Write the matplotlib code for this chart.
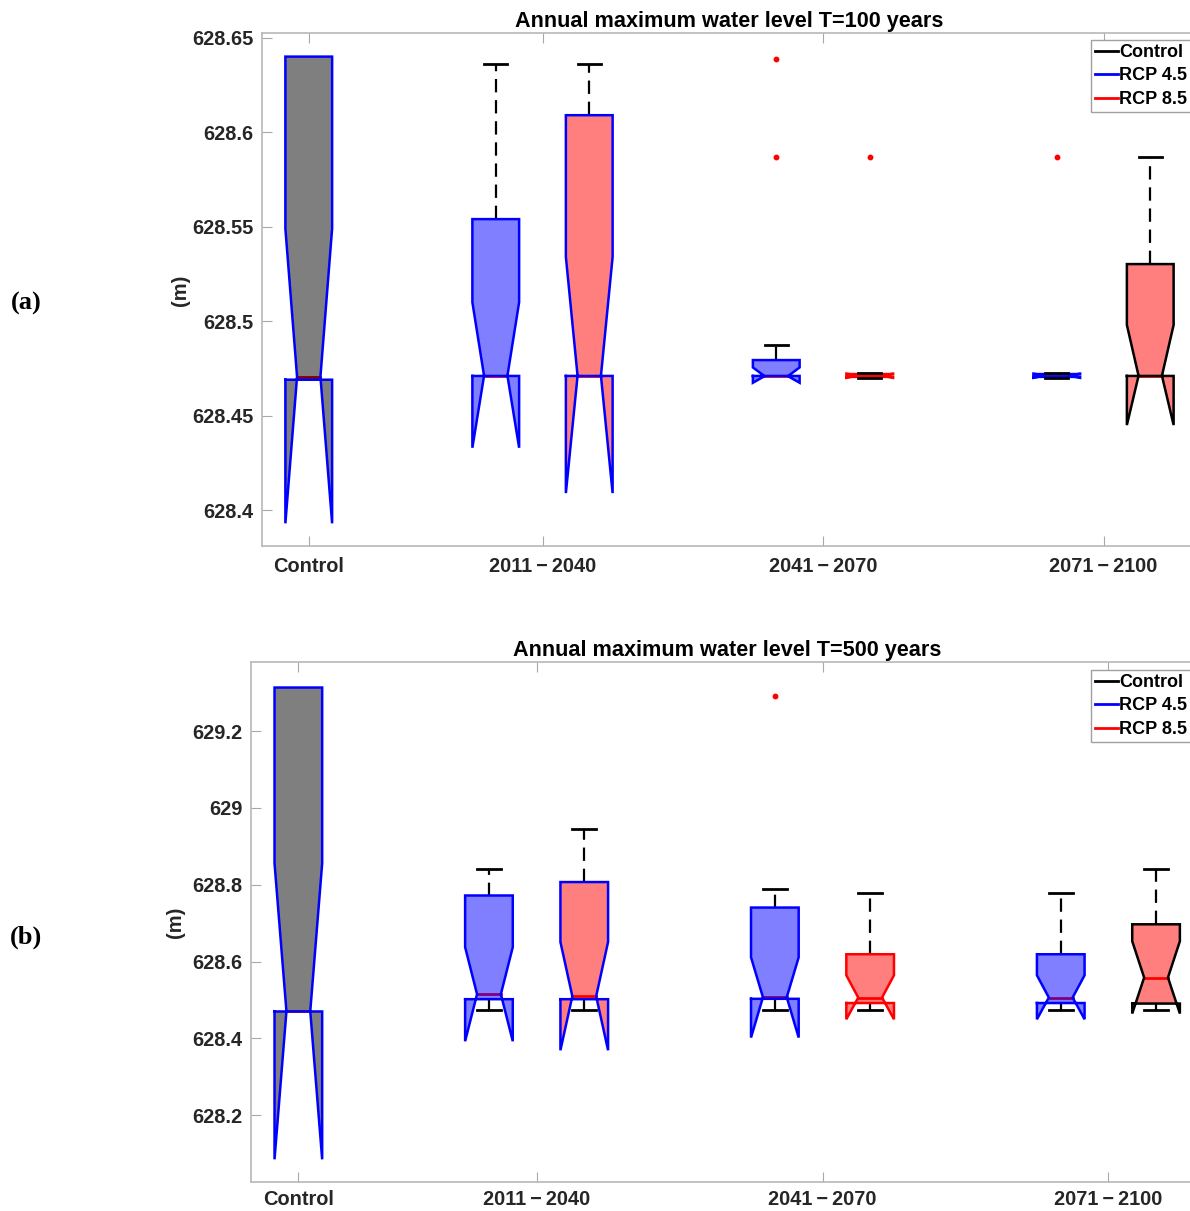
import matplotlib
matplotlib.use('Agg')
import matplotlib.pyplot as plt
from matplotlib.ticker import FuncFormatter

plt.rcParams['font.family'] = ['Liberation Sans', 'DejaVu Sans']
plt.rcParams['font.weight'] = 'bold'

groups = ['Control', '2011\u2009\u2212\u20092040', '2041\u2009\u2212\u20092070', '2071\u2009\u2212\u20092100']
series = ['Control', 'RCP 4.5', 'RCP 8.5']

# box order: Control, then RCP 4.5 / RCP 8.5 for every period
box_series = [0, 1, 2, 1, 2, 1, 2]

####################
# T = 100 years
q1_100    = [628.469, 628.471, 628.471, 628.4710, 628.4705, 628.4705, 628.471]
med_100   = [628.4706, 628.4711, 628.4711, 628.4709, 628.4712, 628.4712, 628.4711]
q3_100    = [628.640, 628.554, 628.609, 628.4794, 628.4720, 628.4720, 628.5302]
nlo_100   = [628.393, 628.433, 628.409, 628.4674, 628.4700, 628.4700, 628.445]
nhi_100   = [628.549, 628.510, 628.534, 628.4755, 628.4722, 628.4722, 628.498]
wlo_100   = [628.469, 628.471, 628.471, 628.4710, 628.4698, 628.4698, 628.471]
whi_100   = [628.640, 628.636, 628.636, 628.4873, 628.4726, 628.4726, 628.5868]
out_100   = [[], [], [], [628.639, 628.587], [628.587], [628.587], []]

####################
# T = 500 years
q1_500    = [628.470, 628.502, 628.502, 628.503, 628.492, 628.492, 628.4906]
med_500   = [628.4706, 628.515, 628.5097, 628.507, 628.5063, 628.5063, 628.5584]
q3_500    = [629.3135, 628.772, 628.807, 628.7406, 628.619, 628.619, 628.697]
nlo_500   = [628.085, 628.3925, 628.369, 628.402, 628.4497, 628.4497, 628.4646]
nhi_500   = [628.856, 628.6375, 628.651, 628.611, 628.5643, 628.5643, 628.653]
wlo_500   = [628.470, 628.473, 628.473, 628.473, 628.473, 628.473, 628.473]
whi_500   = [629.3135, 628.841, 628.9445, 628.788, 628.778, 628.778, 628.841]
out_500   = [[], [], [], [629.292], [], [], []]

box_pos = [1, 2, 2.5, 3.5, 4, 5, 5.5]
group_pos = [1, 2.25, 3.75, 5.25]
box_w = 0.25

fill_colors = ['k', 'b', 'r']
edge_colors = ['b', 'b', 'b', 'b', 'r', 'b', 'k']

fig = plt.figure(figsize=(11.9, 12.11), dpi=100)


def notch_box(ax, x, q1, med, q3, nlo, nhi, wlo, whi, outl, fc, ec):
    h = box_w / 2
    xs = [x - h, x - h, x - h / 2, x - h, x - h, x + h, x + h, x + h / 2, x + h, x + h, x - h]
    ys = [q1, nlo, med, nhi, q3, q3, nhi, med, nlo, q1, q1]
    # median sits under the transparent fill
    ax.plot([x - h / 2, x + h / 2], [med, med], color='r', lw=2, zorder=2)
    ax.fill(xs, ys, color=fc, alpha=0.5, lw=0, zorder=3)
    ax.plot(xs, ys, color=ec, lw=1.8, zorder=4, solid_joinstyle='miter')
    if whi > q3:
        ax.plot([x, x], [q3, whi], color='k', lw=1.6, ls=(0, (6, 3.5)), zorder=1)
        ax.plot([x - h / 2, x + h / 2], [whi, whi], color='k', lw=2, zorder=5)
    if wlo < q1:
        ax.plot([x, x], [wlo, q1], color='k', lw=1.6, ls=(0, (6, 3.5)), zorder=1)
        ax.plot([x - h / 2, x + h / 2], [wlo, wlo], color='k', lw=2, zorder=5)
    for v in outl:
        ax.plot(x, v, 'o', color='r', ms=3.2, mec='r', zorder=6)


def draw_panel(ax, q1, med, q3, nlo, nhi, wlo, whi, outl, title, yticks, ylim, leg_top, xpad):
    for i in range(len(box_pos)):
        notch_box(ax, box_pos[i], q1[i], med[i], q3[i], nlo[i], nhi[i], wlo[i], whi[i],
                  outl[i], fill_colors[box_series[i]], edge_colors[i])
    ax.set_xlim(0.75, 5.75)
    ax.set_ylim(*ylim)
    ax.set_xticks(group_pos)
    ax.set_xticklabels(groups)
    ax.set_yticks(yticks)
    ax.yaxis.set_major_formatter(FuncFormatter(lambda v, p: '%g' % round(v, 2)))
    ax.tick_params(direction='in', length=7, width=0.8, color='#a8a8a8',
                   labelcolor='#262626', labelsize=14.4, pad=6)
    ax.tick_params(axis='x', top=True, pad=xpad)
    for s in ax.spines.values():
        s.set_color('#b8b8b8')
        s.set_linewidth(1.2)
    ax.set_title(title, fontsize=15.6, fontweight='bold', pad=4)

    handles = [plt.Line2D([], [], color=c, lw=2) for c in ['k', 'b', 'r']]
    leg = ax.legend(handles, series, loc='upper left', bbox_to_anchor=(1091 / 1190, leg_top),
                    bbox_transform=fig.transFigure, borderaxespad=0, fontsize=13.0,
                    handlelength=1.3, handletextpad=0.05, labelspacing=0.36,
                    borderpad=0.22, fancybox=False, framealpha=1)
    leg.get_frame().set_edgecolor('#a0a0a0')
    leg.get_frame().set_linewidth(1.0)


ax1 = fig.add_axes([262 / 1190, 1 - 546 / 1211, 935 / 1190, 513 / 1211])
draw_panel(ax1, q1_100, med_100, q3_100, nlo_100, nhi_100, wlo_100, whi_100, out_100,
           'Annual maximum water level T=100 years',
           [628.4, 628.45, 628.5, 628.55, 628.6, 628.65], (628.381, 628.6525), 1 - 40 / 1211, 8)

ax2 = fig.add_axes([250.7 / 1190, 1 - 1182 / 1211, 953 / 1190, 520 / 1211])
draw_panel(ax2, q1_500, med_500, q3_500, nlo_500, nhi_500, wlo_500, whi_500, out_500,
           'Annual maximum water level T=500 years',
           [628.2, 628.4, 628.6, 628.8, 629.0, 629.2], (628.026, 629.38), 1 - 670 / 1211, 6)

for yl, yc in [(181, 290), (176, 922)]:
    fig.text(yl / 1190, 1 - yc / 1211, '(m)', rotation=90, ha='center', va='center',
             fontsize=14.4, fontweight='bold', color='#262626')

fig.text(26 / 1190, 1 - 303 / 1211, '(a)', ha='center', va='center', fontsize=19,
         family=['Liberation Serif', 'DejaVu Serif'], fontweight='bold')
fig.text(26 / 1190, 1 - 937 / 1211, '(b)', ha='center', va='center', fontsize=19,
         family=['Liberation Serif', 'DejaVu Serif'], fontweight='bold')

fig.savefig('out.png', dpi=100)
